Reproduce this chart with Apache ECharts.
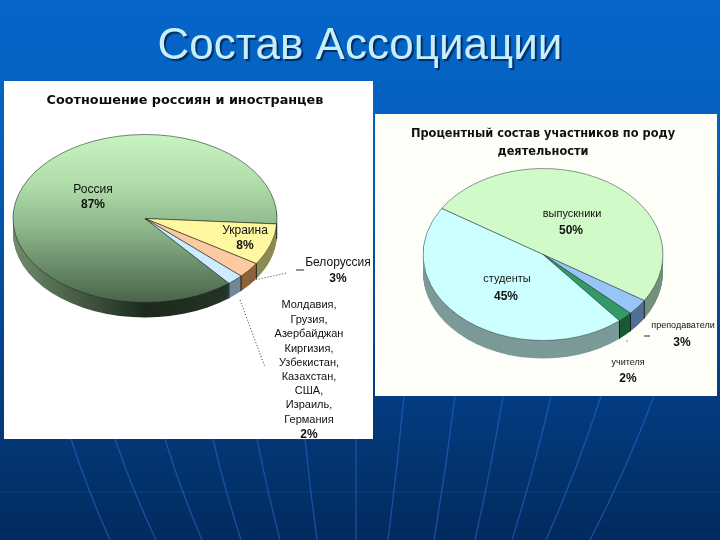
<!DOCTYPE html>
<html><head><meta charset="utf-8">
<style>html,body{margin:0;padding:0;background:#03397a}#c{width:720px;height:540px}</style>
<script src="https://cdn.jsdelivr.net/npm/echarts@6/dist/echarts.min.js"></script>
</head><body><div id="c"></div>
<script>
// ---- data ----
const leftCategories = ['Россия', 'Украина', 'Белоруссия', 'Прочие'];
const leftValues = [87, 8, 3, 2];
const rightCategories = ['выпускники', 'преподаватели', 'учителя', 'студенты'];
const rightValues = [50, 3, 2, 45];
const otherCountries = ['Молдавия,', 'Грузия,', 'Азербайджан', 'Киргизия,', 'Узбекистан,', 'Казахстан,', 'США,', 'Израиль,', 'Германия'];

// ---- styling ----
const sideShade = stops => ({type:'linear', x:0, y:0, x2:1, y2:0, colorStops:stops});
const leftTop = [
  {type:'linear', x:0, y:0, x2:0, y2:1, colorStops:[
    {offset:0,color:'#c8f4c2'},{offset:0.3,color:'#b0dcaa'},{offset:0.55,color:'#8fb88d'},{offset:0.85,color:'#5f7f5f'},{offset:1,color:'#4a6449'}]},
  '#fff8a0', '#fcc9a0', '#ccecff'];
const leftSide = [sideShade([{offset:0,color:'#6f8c6c'},{offset:0.5,color:'#1c2a1c'},{offset:0.85,color:'#243426'},{offset:1,color:'#2c3f2c'}]), '#8d8a52', '#8f6238', '#72889a'];
const rightTop = ['#d0fbc8', '#99c4f8', '#339966', '#ccffff'];
const rightSide = ['#75907a', '#4f6f96', '#175a34', '#7b9a98'];

const LEFT = {cx:145, cy:218.5, rx:132, ry:84, start:-50.5, depth:15, outline:'#1c2c20', outlineW:0.7};
const RIGHT = {cx:543, cy:254.5, rx:120, ry:86, start:-212.4, depth:18, outline:'#2a3a38', outlineW:0.6};

function pieSeries(p, cats, vals, colors, sides) {
  const data = (cols, border) => cats.map((n, i) => ({
    name: n, value: vals[i],
    itemStyle: {color: cols[i], borderColor: border ? p.outline : cols[i], borderWidth: border ? p.outlineW : 0}
  }));
  const base = {type:'pie', silent:true, animation:false, startAngle:p.start, clockwise:true,
    radius:[0, p.rx], label:{show:false}, labelLine:{show:false}, emphasis:{disabled:true}};
  const out = [];
  for (let d = p.depth; d >= 1; d--) out.push(Object.assign({}, base, {center:[p.cx, p.cy + d], data:data(sides, false)}));
  out.push(Object.assign({}, base, {center:[p.cx, p.cy], data:data(colors, true)}));
  return out;
}

// Vertical seams on the disc's rim, placed from the slice values.
function seams(p, vals) {
  const total = vals.reduce((a, b) => a + b, 0);
  let a = -p.start;
  return vals.map(v => {
    a += v / total * 360;
    const t = a * Math.PI / 180, x = p.cx + p.rx * Math.cos(t), y = p.cy + p.ry * Math.sin(t);
    return Math.sin(t) > 0 ? {type:'line', z:5, silent:true, shape:{x1:x, y1:y, x2:x, y2:y + p.depth},
      style:{stroke:'#101a14', lineWidth:0.9}} : null;
  }).filter(Boolean);
}

const txt = (x, y, text, o) => ({type:'text', z:10, silent:true, x, y:y + 1,
  style:Object.assign({text, fill:'#111', font:'11px "Liberation Sans"', align:'center', verticalAlign:'middle'}, o || {})});
const big = {font:'12px "Liberation Sans"'};
const boldPct = {font:'bold 12px "Liberation Sans"'};
const small = {font:'9px "Liberation Sans"'};
const rays = [
  [71,439,110,540],[115,439,156,540],[165,439,202,540],[213,439,241,540],[257,439,280,540],[305,439,317,540],[356,439,356,540],
  [404,396,388,540],[455,396,434,540],[503,396,475,540],[551,396,512,540],[601,396,546,540],[654,396,590,540]
];
const rayEls = rays.map(r => ({type:'bezierCurve', z:0, silent:true,
  shape:{x1:r[0], y1:r[1], cpx1:r[0]+(r[2]-r[0])*0.42, cpy1:r[1]+(r[3]-r[1])*0.5, x2:r[2], y2:r[3]},
  style:{stroke:'rgba(40,110,215,0.55)', lineWidth:1.3, fill:null}}));

const titleShadow = {textShadowColor:'rgba(0,20,60,0.7)', textShadowBlur:1, textShadowOffsetX:2, textShadowOffsetY:2};
const otherLabelYs = [305,320,334,349,363,377,391,405,420];

const graphics = [].concat(rayEls, [
  {type:'line', z:0, silent:true, shape:{x1:0,y1:492,x2:720,y2:492}, style:{stroke:'rgba(60,120,210,0.22)', lineWidth:1}},
  {type:'rect', z:1, silent:true, shape:{x:4,y:81,width:369,height:358}, style:{fill:'#ffffff'}},
  {type:'rect', z:1, silent:true, shape:{x:375,y:114,width:342,height:282}, style:{fill:'#fffffa'}},
  {type:'text', z:10, silent:true, x:360, y:47, style:Object.assign({text:'Состав Ассоциации', fill:'#c6eefb', font:'44px "Liberation Sans"', align:'center', verticalAlign:'middle'}, titleShadow)},
  txt(185, 100, 'Соотношение россиян и иностранцев', {font:'bold 12.8px "DejaVu Sans"', fill:'#0c0c0c'}),
  txt(543, 133, 'Процентный состав участников по роду', {font:'bold 11.4px "DejaVu Sans"', fill:'#111'}),
  txt(543, 151, 'деятельности', {font:'bold 11.4px "DejaVu Sans"', fill:'#111'}),
  txt(93, 189, leftCategories[0], big), txt(93, 204, leftValues[0] + '%', boldPct),
  txt(245, 230, leftCategories[1], big), txt(245, 245, leftValues[1] + '%', boldPct),
  txt(338, 262, leftCategories[2], big), txt(338, 278, leftValues[2] + '%', boldPct),
  {type:'polyline', z:10, silent:true, shape:{points:[[250,281],[287,273]]}, style:{stroke:'#333', lineWidth:1, lineDash:[1,2], fill:null}},
  {type:'polyline', z:10, silent:true, shape:{points:[[240,300],[265,367]]}, style:{stroke:'#333', lineWidth:1, lineDash:[1,2], fill:null}},
  {type:'line', z:10, silent:true, shape:{x1:296,y1:270,x2:304,y2:270}, style:{stroke:'#222', lineWidth:1}},
  {type:'line', z:10, silent:true, shape:{x1:644,y1:336,x2:650,y2:336}, style:{stroke:'#222', lineWidth:1}},
  {type:'circle', z:10, silent:true, shape:{cx:627,cy:341,r:0.7}, style:{fill:'#666'}},
  txt(572, 213, rightCategories[0]), txt(571, 230, rightValues[0] + '%', boldPct),
  txt(507, 278, rightCategories[3]), txt(506, 296, rightValues[3] + '%', boldPct),
  txt(683, 325, rightCategories[1], small), txt(682, 342, rightValues[1] + '%', boldPct),
  txt(628, 362, rightCategories[2], small), txt(628, 378, rightValues[2] + '%', boldPct)
], seams(LEFT, leftValues), seams(RIGHT, rightValues),
  otherCountries.map((s, i) => txt(309, otherLabelYs[i] - 1, s)), [txt(309, 434, leftValues[3] + '%', boldPct)]);

const chart = echarts.init(document.getElementById('c'), null, {renderer:'canvas'});
chart.setOption({
  animation:false,
  backgroundColor:{type:'linear', x:0, y:0, x2:0, y2:1, colorStops:[
    {offset:0,color:'#0565c8'},{offset:0.25,color:'#0460bd'},{offset:0.75,color:'#043b7e'},{offset:1,color:'#022a5e'}]},
  graphic:{elements:graphics},
  series:[].concat(
    pieSeries(LEFT, leftCategories, leftValues, leftTop, leftSide),
    pieSeries(RIGHT, rightCategories, rightValues, rightTop, rightSide)
  )
});

// Tilt: pies are circles; flatten each one about its own centre so it reads as a tilted disc.
function tilt() {
  chart.getZr().storage.getDisplayList(true).forEach(el => {
    if (el.type === 'sector' && el.shape) {
      const p = el.shape.cx < 360 ? LEFT : RIGHT;
      el.originX = el.shape.cx;
      el.originY = el.shape.cy;
      el.scaleY = p.ry / p.rx;
      el.markRedraw();
    }
  });
}
tilt();
chart.on('finished', tilt);
</script></body></html>
